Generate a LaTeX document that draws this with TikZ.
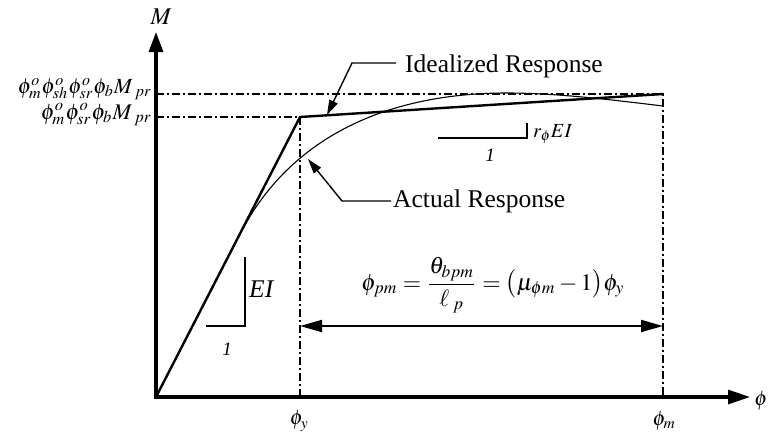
\documentclass[tikz,border=0pt]{standalone}
\usepackage{mathptmx}
\usepackage[no-math]{fontspec}
\setmainfont{Liberation Serif}
\usepackage{graphicx}
\usetikzlibrary{arrows.meta}
\newcommand\phiSS[2]{\phi^{\smash{#1}}_{\smash{#2}}}
\begin{document}
\begin{tikzpicture}[x=1pt,y=-1pt,
  axis/.style={line width=3.2pt,{Triangle[length=20pt,width=14pt]}-{Triangle[length=22pt,width=14pt]}},
  ideal/.style={line width=2.4pt,line join=miter},
  actual/.style={line width=1.1pt},
  guide/.style={line width=1.2pt,dash pattern=on 8pt off 3pt on 2pt off 3pt},
  leader/.style={line width=1.4pt,-{Triangle[length=15pt,width=9pt]}},
  slope/.style={line width=1.2pt},
  span/.style={line width=2pt,{Triangle[length=22pt,width=12pt]}-{Triangle[length=22pt,width=12pt]}},
  lbl/.style={inner sep=0pt,font=\fontsize{25.5}{30}\selectfont},
  mlbl/.style={inner sep=0pt,font=\fontsize{21}{25}\selectfont}]
\useasboundingbox (0,0) rectangle (770,434);
% key points
\coordinate (O) at (156,397);
\coordinate (ytip) at (156,32);
\coordinate (xtip) at (750,397);
\coordinate (Y) at (300,117);
\coordinate (U) at (663,94);
\coordinate (Yb) at (300,397);
\coordinate (Ub) at (663,397);
\coordinate (Ya) at (156,117);
\coordinate (Ua) at (156,94);
% guides
\draw[guide] (Ua) -- (U) -- (Ub);
\draw[guide] (Ya) -- (Y) -- (Yb);
% axes
\draw[axis] (ytip) -- (O) -- (xtip);
% idealized response
\draw[ideal] (O) -- (Y) -- (U);
% actual response
\coordinate (A0) at (240,234);
\coordinate (Apk) at (507,93);
\coordinate (Aend) at (663,106);
\draw[actual] (O) -- (A0) .. controls (290,137) and (387,93) .. (Apk)
  .. controls (557,93) and (613,100) .. (Aend);
% labels with leaders
\node[lbl,anchor=base west] (ideallbl) at (405,72) {Idealized Response};
\coordinate (iS) at (396,63);
\coordinate (iK) at (352,63);
\coordinate (iT) at (327,115);
\draw[leader] (iS) -- (iK) -- (iT);
\node[lbl,anchor=base west] (actlbl) at (393,207) {Actual Response};
\coordinate (aS) at (391,201);
\coordinate (aK) at (342,201);
\coordinate (aT) at (308,159);
\draw[leader] (aS) -- (aK) -- (aT);
% EI slope triangle
\coordinate (e1) at (245,257);
\coordinate (e2) at (245,326);
\coordinate (e3) at (206,326);
\draw[slope] (e1) -- (e2) -- (e3);
\node[lbl,anchor=base west] (eilbl) at (249,297) {\textit{EI}};
\node[inner sep=0pt,font=\fontsize{19}{22}\selectfont] (one1) at (227,349) {\textit{1}};
% r EI slope triangle
\coordinate (r1) at (438,138);
\coordinate (r2) at (527,138);
\coordinate (r3) at (527,123);
\draw[slope] (r1) -- (r2) -- (r3);
\node[inner sep=0pt,anchor=base west,font=\fontsize{20}{24}\selectfont] (rlbl) at (533,137) {$r_{\phi}EI$};
\node[inner sep=0pt,font=\fontsize{19}{22}\selectfont] (one2) at (490,155) {\textit{1}};
% plastic curvature span
\coordinate (s1) at (300,326);
\coordinate (s2) at (663,326);
\draw[span] (s1) -- (s2);
\node[inner sep=0pt,anchor=base] (eq) at (493,290)
  {\resizebox{263pt}{!}{$\displaystyle \phi_{pm}=\frac{\theta_{bpm}}{\ell_{\;p}}=\bigl(\mu_{\phi m}-1\bigr)\phi_{y}$}};
% axis value labels
\node[inner sep=0pt,anchor=base east] (m2lbl) at (152,93)
  {\resizebox{134pt}{!}{$\phiSS{o}{m}\phiSS{o}{sh}\phiSS{o}{sr}\phi_{\smash{b}}M_{\;pr}$}};
\node[inner sep=0pt,anchor=base east] (m1lbl) at (152,119)
  {\resizebox{111pt}{!}{$\phiSS{o}{m}\phiSS{o}{sr}\phi_{\smash{b}}M_{\;pr}$}};
\node[inner sep=0pt,font=\fontsize{24}{28}\selectfont] (Mlbl) at (161,17) {$M$};
\node[mlbl] (philbl) at (761,401) {$\phi$};
\node[mlbl] (phiy) at (299,421) {$\phi_{y}$};
\node[mlbl] (phim) at (664,421) {$\phi_{m}$};
\end{tikzpicture}
\end{document}
